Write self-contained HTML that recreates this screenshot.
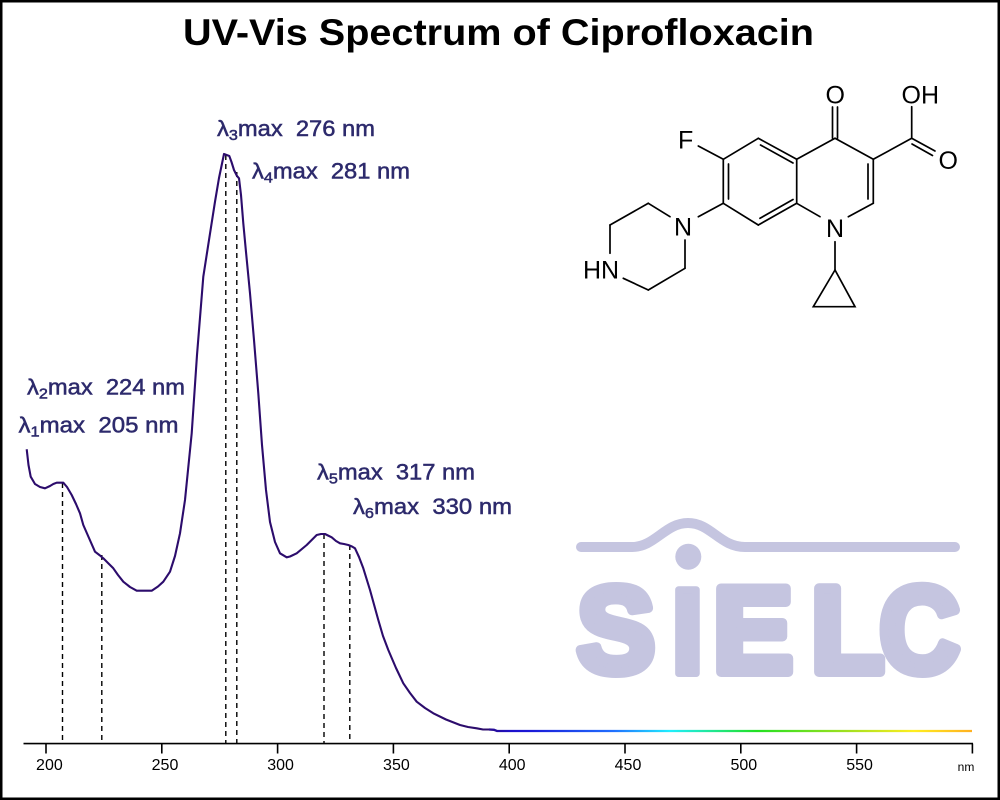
<!DOCTYPE html>
<html><head><meta charset="utf-8"><style>
html,body{margin:0;padding:0;background:#fff;}
svg{display:block;}
text{white-space:pre;}
</style></head><body>
<svg width="1000" height="800" viewBox="0 0 1000 800" xmlns="http://www.w3.org/2000/svg">
<defs>
<linearGradient id="spec" gradientUnits="userSpaceOnUse" x1="488" y1="0" x2="972" y2="0">
<stop offset="0" stop-color="#2a0c8a"/>
<stop offset="0.05" stop-color="#1c10cc"/>
<stop offset="0.09" stop-color="#1a1ad8"/>
<stop offset="0.26" stop-color="#2070ff"/>
<stop offset="0.375" stop-color="#20eeff"/>
<stop offset="0.555" stop-color="#22e022"/>
<stop offset="0.74" stop-color="#a0e020"/>
<stop offset="0.88" stop-color="#ffee20"/>
<stop offset="1" stop-color="#ffb020"/>
</linearGradient>
</defs>
<rect x="0" y="0" width="1000" height="800" fill="#fff"/>
<rect x="1.25" y="1.25" width="997.5" height="797.5" fill="none" stroke="#000" stroke-width="2.5"/>

<!-- Title -->
<text x="183" y="45" font-family="Liberation Sans, Arial, sans-serif" font-weight="bold" font-size="37" fill="#000" textLength="631" lengthAdjust="spacingAndGlyphs">UV-Vis Spectrum of Ciprofloxacin</text>

<!-- SIELC logo -->
<g fill="#c5c5e0" stroke="#c5c5e0">
<path d="M581,547 L632,547 C655,547 665,523 688,523 C711,523 720,547 745,547 L955,547" fill="none" stroke-width="10" stroke-linecap="round"/>
<circle cx="688.3" cy="556.7" r="13" stroke="none"/>
<g font-family="Liberation Sans, Arial, sans-serif" font-weight="bold" font-size="122" stroke-width="10" stroke-linejoin="round">
<text x="577" y="672" textLength="78" lengthAdjust="spacingAndGlyphs">S</text>
<text x="687.5" y="673.5" text-anchor="middle" stroke-width="7">I</text>
<text x="713" y="672" textLength="80" lengthAdjust="spacingAndGlyphs">E</text>
<text x="811" y="672" textLength="73" lengthAdjust="spacingAndGlyphs">L</text>
<text x="879.5" y="672" textLength="80" lengthAdjust="spacingAndGlyphs">C</text>
</g>
</g>

<!-- Molecule -->
<g stroke="#000" stroke-width="1.7" fill="none" stroke-linecap="round">
<line x1="758.3" y1="138.3" x2="796.7" y2="159.3"/>
<line x1="760.5" y1="145" x2="793" y2="163"/>
<line x1="796.7" y1="159.3" x2="796.7" y2="203.3"/>
<line x1="796.7" y1="203.3" x2="758.3" y2="225"/>
<line x1="793" y1="199.5" x2="760" y2="218.3"/>
<line x1="758.3" y1="225" x2="723.3" y2="203.3"/>
<line x1="723.3" y1="203.3" x2="723.3" y2="159.3"/>
<line x1="728.5" y1="199" x2="728.5" y2="164"/>
<line x1="723.3" y1="159.3" x2="758.3" y2="138.3"/>
<line x1="796.7" y1="159.3" x2="835" y2="138.3"/>
<line x1="835" y1="138.3" x2="873.3" y2="159.3"/>
<line x1="873.3" y1="159.3" x2="873.3" y2="203.3"/>
<line x1="868" y1="164" x2="868" y2="199"/>
<line x1="873.3" y1="203.3" x2="848.3" y2="216.7"/>
<line x1="820" y1="216.7" x2="796.7" y2="203.3"/>
<line x1="832.5" y1="138.3" x2="832.5" y2="107"/>
<line x1="837.5" y1="138.3" x2="837.5" y2="107"/>
<line x1="873.3" y1="159.3" x2="911.7" y2="138.3"/>
<line x1="911.7" y1="138.3" x2="911.7" y2="106.7"/>
<line x1="911.7" y1="138.3" x2="935" y2="151"/>
<line x1="912" y1="144" x2="932.5" y2="155.5"/>
<line x1="723.3" y1="159.3" x2="698.3" y2="146"/>
<line x1="723.3" y1="203.3" x2="698.3" y2="216.7"/>
<line x1="670" y1="216.7" x2="648.3" y2="203.3"/>
<line x1="648.3" y1="203.3" x2="610" y2="225"/>
<line x1="610" y1="225" x2="610" y2="253.3"/>
<line x1="623.3" y1="278.3" x2="648.3" y2="290"/>
<line x1="648.3" y1="290" x2="685" y2="268.3"/>
<line x1="685" y1="268.3" x2="685" y2="240"/>
<line x1="835" y1="241.7" x2="835" y2="270"/>
<path d="M835,270 L813.3,306.7 L855,306.7 Z" stroke-linejoin="miter"/>
</g>
<g font-family="Liberation Sans, Arial, sans-serif" font-size="25" fill="#000">
<text x="825.5" y="103.5">O</text>
<text x="901.5" y="103.5">OH</text>
<text x="938.5" y="169">O</text>
<text x="678" y="148.5">F</text>
<text x="674" y="235.5">N</text>
<text x="583" y="278.5">HN</text>
<text x="826" y="237">N</text>
</g>

<!-- dashed markers -->
<g stroke="#000" stroke-width="1.4" stroke-dasharray="5,4">
<line x1="62.5" y1="483" x2="62.5" y2="743"/>
<line x1="101.8" y1="555" x2="101.8" y2="743"/>
<line x1="225.8" y1="155" x2="225.8" y2="743"/>
<line x1="236.8" y1="172" x2="236.8" y2="743"/>
<line x1="324" y1="534" x2="324" y2="743"/>
<line x1="349.8" y1="545" x2="349.8" y2="743"/>
</g>

<!-- spectrum curve -->
<path fill="none" stroke="#2c0c6c" stroke-width="2.1" stroke-linejoin="round" d="M26.7,449.3 L28.5,465 L30.7,476.7 L35,484 L40,487 L45,488.3 L50,486 L53.3,484 L56.7,482.7 L63.3,482.7 L67,487 L71.7,495 L76,504 L80,513.3 L83.3,525 L89,538 L95,551.7 L100,555.5 L103.3,558.3 L108,563 L113.3,568.3 L118,575 L123.3,581.7 L130,587 L136.7,590.7 L151.7,590.7 L158,586.5 L163.3,581.7 L170,571.7 L175,556 L180,533.3 L185,500 L191.7,433.3 L197,355 L203.3,276.7 L209,240 L215,201.7 L219,178 L224,154 L229.3,156 L231.5,162 L234,170 L237,176 L239,178.3 L241,195 L243.3,223.3 L246,252 L250,293.3 L254,340 L258.3,393.3 L262,445 L266,490 L270,522 L275,542 L280,553.3 L286.7,557.3 L290,556.5 L296.7,553.3 L306.7,545 L316.7,535 L321,534 L325,534 L328,535.5 L331.7,537.3 L336,541 L340,543.3 L344,544 L348.3,545 L352,546.5 L355,548.3 L359,557 L363.3,568.3 L370,590 L378.3,620 L383,636 L388.3,650 L396,668 L403.3,683.3 L410,693 L416.7,701.7 L425,708 L433.3,713.3 L446,719.5 L460,725 L468,727 L476.7,728.3 L483,729.5 L490,729.5"/>
<path fill="none" stroke="url(#spec)" stroke-width="2.3" d="M489,729.5 L494,729.8 L497,731 L972,731"/>

<!-- axis -->
<g stroke="#000" stroke-width="1.6">
<line x1="23.5" y1="743.6" x2="973" y2="743.6"/>
<line x1="46" y1="743.6" x2="46" y2="753.5"/>
<line x1="161.8" y1="743.6" x2="161.8" y2="753.5"/>
<line x1="277.6" y1="743.6" x2="277.6" y2="753.5"/>
<line x1="393.4" y1="743.6" x2="393.4" y2="753.5"/>
<line x1="509.2" y1="743.6" x2="509.2" y2="753.5"/>
<line x1="625" y1="743.6" x2="625" y2="753.5"/>
<line x1="740.8" y1="743.6" x2="740.8" y2="753.5"/>
<line x1="856.6" y1="743.6" x2="856.6" y2="753.5"/>
<line x1="972.4" y1="743.6" x2="972.4" y2="753.5"/>
</g>
<g font-family="Liberation Sans, Arial, sans-serif" font-size="16" fill="#000" text-anchor="middle">
<text x="49.4" y="770">200</text>
<text x="165" y="770">250</text>
<text x="280.6" y="770">300</text>
<text x="396.4" y="770">350</text>
<text x="512.2" y="770">400</text>
<text x="628" y="770">450</text>
<text x="743.8" y="770">500</text>
<text x="859.6" y="770">550</text>
<text x="966" y="771" font-size="12">nm</text>
</g>

<!-- peak labels -->
<g font-family="Liberation Sans, Arial, sans-serif" font-size="22" fill="#2d2a6c" stroke="#2d2a6c" stroke-width="0.5">
<text x="217" y="136" textLength="158" lengthAdjust="spacingAndGlyphs">λ<tspan font-size="15" dy="4">3</tspan><tspan dy="-4">max  276 nm</tspan></text>
<text x="252" y="178.3" textLength="158" lengthAdjust="spacingAndGlyphs">λ<tspan font-size="15" dy="4">4</tspan><tspan dy="-4">max  281 nm</tspan></text>
<text x="27" y="394.3" textLength="158" lengthAdjust="spacingAndGlyphs">λ<tspan font-size="15" dy="4">2</tspan><tspan dy="-4">max  224 nm</tspan></text>
<text x="18.5" y="432.7" textLength="160" lengthAdjust="spacingAndGlyphs">λ<tspan font-size="15" dy="4">1</tspan><tspan dy="-4">max  205 nm</tspan></text>
<text x="317" y="479.3" textLength="158" lengthAdjust="spacingAndGlyphs">λ<tspan font-size="15" dy="4">5</tspan><tspan dy="-4">max  317 nm</tspan></text>
<text x="353" y="514" textLength="159" lengthAdjust="spacingAndGlyphs">λ<tspan font-size="15" dy="4">6</tspan><tspan dy="-4">max  330 nm</tspan></text>
</g>
</svg>
</body></html>
